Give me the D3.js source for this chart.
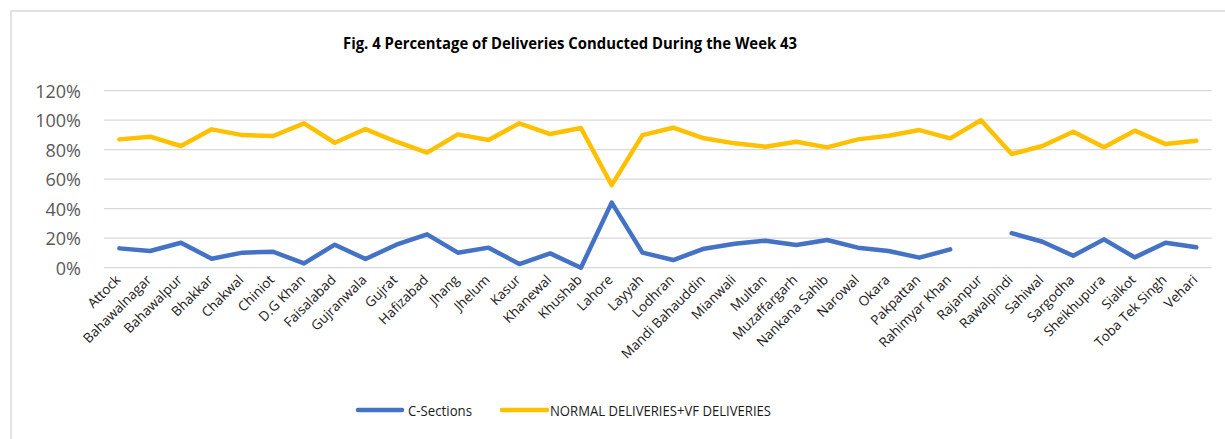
<!DOCTYPE html>
<html><head><meta charset="utf-8">
<script src="https://cdn.jsdelivr.net/npm/d3@7"></script>
<style>html,body{margin:0;padding:0;background:#fff;}svg{display:block;}</style>
</head><body>
<script>
const categories = ["Attock","Bahawalnagar","Bahawalpur","Bhakkar","Chakwal","Chiniot","D.G Khan","Faisalabad","Gujranwala","Gujrat","Hafizabad","Jhang","Jhelum","Kasur","Khanewal","Khushab","Lahore","Layyah","Lodhran","Mandi Bahauddin","Mianwali","Multan","Muzaffargarh","Nankana Sahib","Narowal","Okara","Pakpattan","Rahimyar Khan","Rajanpur","Rawalpindi","Sahiwal","Sargodha","Sheikhupura","Sialkot","Toba Tek Singh","Vehari"];
const cSections = [13.1,11.3,16.9,6.1,10.2,10.8,2.9,15.6,5.9,15.6,22.6,10.2,13.6,2.5,9.7,0,44.1,10.2,5.2,12.9,16.3,18.3,15.4,18.8,13.6,11.3,6.8,12.4,null,23.4,17.6,8.1,19.2,7.0,16.9,13.8];
const normalVf = [87.0,88.8,82.5,93.8,89.9,89.3,97.9,84.7,94.0,85.4,78.0,90.4,86.6,97.9,90.6,94.7,56.0,89.9,94.9,87.7,84.3,82.0,85.4,81.6,87.0,89.5,93.3,87.7,100,77.1,82.5,92.2,81.6,92.9,83.8,86.1];
const yTicks = [0,20,40,60,80,100,120];
const seriesNames = ["C-Sections","NORMAL DELIVERIES+VF DELIVERIES"];
const colors = ["#4472C4","#FFC000"];

const W = 1225, H = 439;
const svg = d3.select("body").append("svg").attr("width", W).attr("height", H);

svg.append("rect").attr("x", 11).attr("y", 11).attr("width", W + 20).attr("height", H + 20)
  .attr("fill", "#fff").attr("stroke", "#d9d9d9").attr("stroke-width", 1.5);

const x0 = 104, x1 = 1211.7, yTop = 90.7, yBot = 267.7;
const x = d3.scaleBand().domain(categories).range([x0, x1]);
const y = d3.scaleLinear().domain([0, 120]).range([yBot, yTop]);
const cx = d => x(d) + x.bandwidth() / 2;

// grid
svg.append("g").selectAll("line").data(yTicks).join("line")
  .attr("x1", x0).attr("x2", x1).attr("y1", d => y(d)).attr("y2", d => y(d))
  .attr("stroke", "#d9d9d9").attr("stroke-width", 1.2);

// y axis labels
const yAxis = d3.axisLeft(y).tickValues(yTicks).tickFormat(d => d + "%").tickSize(0).tickPadding(0);
const gy = svg.append("g").attr("transform", `translate(81,0)`).call(yAxis);
gy.select(".domain").remove();
gy.selectAll("text").attr("font-family", "'Open Sans', sans-serif").attr("font-size", 18)
  .attr("fill", "#595959").attr("dy", "0.36em");

// x axis labels
const xAxis = d3.axisBottom(x).tickSize(0).tickPadding(0);
const gx = svg.append("g").attr("transform", `translate(0,${yBot})`).call(xAxis);
gx.select(".domain").remove();
gx.selectAll(".tick text")
  .attr("font-family", "'Open Sans', sans-serif").attr("font-size", 13.5).attr("fill", "#1a1a1a")
  .attr("text-anchor", "end").attr("dy", 0).attr("y", 0)
  .attr("transform", "translate(2,13) rotate(-45)");

// lines
const line = d3.line().defined(d => d.v !== null).x(d => cx(d.c)).y(d => y(d.v));
[cSections, normalVf].forEach((vals, i) => {
  svg.append("path").datum(categories.map((c, j) => ({c, v: vals[j]})))
    .attr("d", line).attr("fill", "none").attr("stroke", colors[i])
    .attr("stroke-width", 4.5).attr("stroke-linejoin", "round").attr("stroke-linecap", "round");
});

// title
svg.append("text").attr("x", 570).attr("y", 49).attr("text-anchor", "middle")
  .attr("font-family", "'Open Sans', sans-serif").attr("font-weight", "bold").attr("font-size", 16.5)
  .attr("fill", "#000").attr("textLength", 454).attr("lengthAdjust", "spacingAndGlyphs")
  .text("Fig. 4 Percentage of Deliveries Conducted During the Week 43");

// legend
const leg = [{x1: 358, x2: 402, tx: 408, tw: 64}, {x1: 502, x2: 547, tx: 550, tw: 221}];
leg.forEach((l, i) => {
  svg.append("line").attr("x1", l.x1).attr("x2", l.x2).attr("y1", 410).attr("y2", 410)
    .attr("stroke", colors[i]).attr("stroke-width", 4.5).attr("stroke-linecap", "round");
  svg.append("text").attr("x", l.tx).attr("y", 415.5).attr("font-family", "'Open Sans', sans-serif")
    .attr("font-size", 15).attr("fill", "#1a1a1a")
    .attr("textLength", l.tw).attr("lengthAdjust", "spacingAndGlyphs").text(seriesNames[i]);
});
</script>
</body></html>
